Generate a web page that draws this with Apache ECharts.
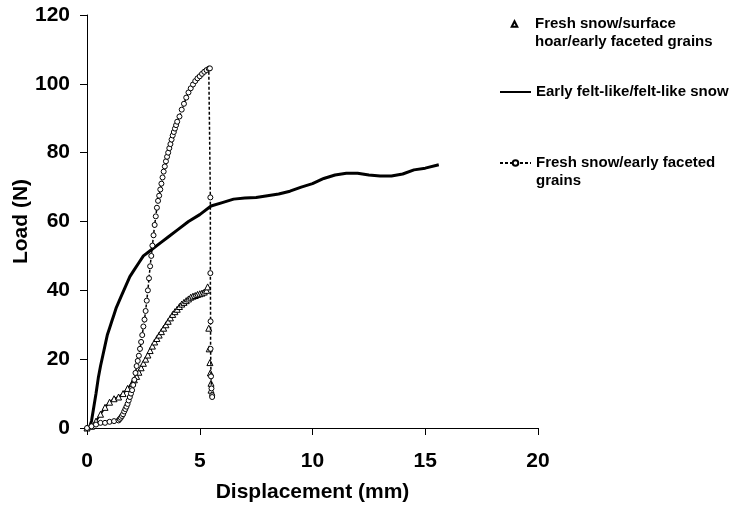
<!DOCTYPE html>
<html>
<head>
<meta charset="utf-8">
<script src="https://cdn.jsdelivr.net/npm/echarts@6/dist/echarts.min.js"></script>
<style>
  html, body { margin: 0; padding: 0; background: #fff; }
  #chart { width: 729px; height: 506px; }
</style>
</head>
<body>
<div id="chart"></div>
<script>
// 系列名
const seriesNames = [
  'Fresh snow/surface hoar/early faceted grains',
  'Early felt-like/felt-like snow',
  'Fresh snow/early faceted grains'
];

// 凡例に表示する行（先頭の空行は記号を1行目に揃えるため）
const legendLines = [
  [' ', 'Fresh snow/surface', 'hoar/early faceted grains'],
  ['Early felt-like/felt-like snow'],
  [' ', 'Fresh snow/early faceted', 'grains']
];

// 三角形の系列（上昇部） [変位(mm), 荷重(N)]
const triangleRise = [
  [0, 0], [0.2, 0.5], [0.4, 2], [0.6, 4], [0.8, 6], [1.0, 7.5], [1.2, 8.5],
  [1.4, 9], [1.6, 10], [1.8, 11.5], [2.0, 13], [2.1, 14], [2.2, 15], [2.3, 16.2],
  [2.4, 17.5], [2.5, 18.8], [2.6, 20], [2.7, 21.2], [2.8, 22.5], [2.9, 23.8],
  [3.0, 25], [3.1, 26], [3.2, 27], [3.3, 28], [3.4, 29], [3.5, 30], [3.6, 31],
  [3.7, 32], [3.8, 33], [3.9, 33.8], [4.0, 34.5], [4.1, 35.3], [4.2, 36],
  [4.3, 36.5], [4.4, 37], [4.5, 37.5], [4.6, 38], [4.7, 38.3], [4.8, 38.5],
  [4.9, 38.8], [5.0, 39], [5.1, 39.2], [5.2, 39.5], [5.3, 40], [5.35, 41]
];

// 三角形の系列（急落部）
const triangleDrop = [
  [5.4, 29], [5.42, 23], [5.45, 19], [5.47, 16], [5.5, 13], [5.5, 11]
];

// 実線の系列
const feltPoints = [
  [0.1, 0], [0.2, 2], [0.3, 6], [0.4, 10], [0.5, 14.5], [0.6, 18], [0.7, 21],
  [0.8, 24], [0.9, 27], [1.0, 29], [1.1, 31], [1.2, 33], [1.3, 35], [1.4, 36.5],
  [1.5, 38], [1.7, 41], [1.9, 44], [2.1, 46], [2.3, 48], [2.5, 50], [2.7, 51],
  [3.0, 52.5], [3.3, 54], [3.6, 55.5], [4.0, 57.5], [4.5, 60], [5.0, 62],
  [5.5, 64.5], [6.0, 65.5], [6.5, 66.5], [7.0, 66.8], [7.5, 67], [8.0, 67.5],
  [8.5, 68], [9.0, 68.8], [9.5, 70], [10.0, 71], [10.5, 72.5], [11.0, 73.5],
  [11.5, 74], [12.0, 74], [12.5, 73.5], [13.0, 73.2], [13.5, 73.2], [14.0, 73.8],
  [14.5, 75], [15.0, 75.5], [15.6, 76.5]
];

// 点線と丸の系列
const circlePoints = [
  [0, 0], [0.2, 0.5], [0.4, 1], [0.6, 1.5], [0.8, 1.5], [1.0, 1.8], [1.2, 2],
  [1.4, 2.2], [1.45, 2.6], [1.5, 3], [1.55, 3.5], [1.6, 4], [1.65, 4.8], [1.7, 5.5],
  [1.75, 6.2], [1.8, 7], [1.85, 8], [1.9, 9], [1.95, 10], [2.0, 11], [2.05, 12.5],
  [2.1, 14], [2.15, 16], [2.2, 18], [2.25, 19.5], [2.3, 21], [2.35, 23], [2.4, 25],
  [2.45, 27], [2.5, 29.5], [2.55, 31.5], [2.6, 34], [2.65, 37], [2.7, 40],
  [2.75, 43.5], [2.8, 47], [2.85, 50], [2.9, 53], [2.95, 56], [3.0, 59],
  [3.05, 61.5], [3.1, 64], [3.15, 66], [3.2, 67.5], [3.25, 69.3], [3.3, 71],
  [3.35, 72.8], [3.4, 74.5], [3.45, 76], [3.5, 77.5], [3.55, 78.8], [3.6, 80],
  [3.65, 81.3], [3.7, 82.5], [3.75, 83.8], [3.8, 85], [3.85, 86], [3.9, 87],
  [3.95, 88], [4.0, 89], [4.1, 90.5], [4.2, 92.5], [4.3, 94.2], [4.4, 96],
  [4.5, 97.5], [4.6, 98.7], [4.7, 99.8], [4.8, 100.8], [4.9, 101.6], [5.0, 102.2],
  [5.1, 102.9], [5.2, 103.5], [5.3, 104], [5.4, 104.4], [5.45, 104.5],
  [5.47, 67], [5.47, 45], [5.48, 31], [5.48, 23], [5.5, 15], [5.52, 11.5],
  [5.55, 9.5], [5.55, 9]
];

// 軸の目盛り
const xTicks = [0, 5, 10, 15, 20];
const yTicks = [0, 20, 40, 60, 80, 100, 120];

const chart = echarts.init(document.querySelector('#chart'));

const font = 'Liberation Sans, Arial, sans-serif';

// 軸の共通設定
const axisCommon = {
  type: 'value',
  nameLocation: 'middle',
  nameMoveOverlap: false,
  nameTextStyle: { fontFamily: font, fontWeight: 'bold', fontSize: 21, color: '#000' },
  axisLine: { show: true, lineStyle: { color: '#000', width: 1 } },
  axisTick: { show: true, length: 7, lineStyle: { color: '#000' } },
  axisLabel: { fontFamily: font, fontWeight: 'bold', fontSize: 21, color: '#000' },
  splitLine: { show: false }
};

// 凡例の共通設定
const legendCommon = {
  orient: 'vertical',
  left: 499,
  itemWidth: 31,
  itemHeight: 7,
  padding: 0,
  selectedMode: false,
  textStyle: { fontFamily: font, fontWeight: 'bold', fontSize: 15, lineHeight: 18, color: '#000' },
  formatter: name => legendLines[seriesNames.indexOf(name)].join('\n')
};

// 三角形の系列の共通設定
const triangleCommon = {
  name: seriesNames[0],
  type: 'line',
  symbol: 'triangle',
  symbolSize: 6,
  showAllSymbol: true,
  itemStyle: { color: '#fff', borderColor: '#000', borderWidth: 1 },
  z: 3
};

const option = {
  animation: false,
  grid: { left: 87, right: 191, top: 15, bottom: 78, outerBoundsMode: 'none' },
  legend: [
    Object.assign({}, legendCommon, {
      top: -3,
      data: [{ name: seriesNames[0], lineStyle: { width: 0 } }]
    }),
    Object.assign({}, legendCommon, {
      top: 83,
      data: [{ name: seriesNames[1], itemStyle: { opacity: 0 } }]
    }),
    Object.assign({}, legendCommon, { top: 136, data: [seriesNames[2]] })
  ],
  xAxis: Object.assign({}, axisCommon, {
    name: 'Displacement (mm)',
    nameGap: 54,
    min: xTicks[0],
    max: xTicks[xTicks.length - 1],
    interval: xTicks[1] - xTicks[0],
    axisLabel: Object.assign({}, axisCommon.axisLabel, { margin: 23 })
  }),
  yAxis: Object.assign({}, axisCommon, {
    name: 'Load (N)',
    nameGap: 55,
    min: yTicks[0],
    max: yTicks[yTicks.length - 1],
    interval: yTicks[1] - yTicks[0],
    axisLabel: Object.assign({}, axisCommon.axisLabel, { margin: 17 })
  }),
  series: [
    Object.assign({}, triangleCommon, {
      data: triangleRise,
      lineStyle: { color: '#000', width: 2 }
    }),
    {
      name: seriesNames[1],
      type: 'line',
      data: feltPoints,
      symbol: 'none',
      lineStyle: { color: '#000', width: 3 },
      itemStyle: { color: '#000' },
      z: 2
    },
    {
      name: seriesNames[2],
      type: 'line',
      data: circlePoints,
      symbol: 'circle',
      symbolSize: 5,
      showAllSymbol: true,
      itemStyle: { color: '#fff', borderColor: '#000', borderWidth: 1 },
      lineStyle: { color: '#000', width: 1.5, type: [3, 2] },
      z: 4
    },
    Object.assign({}, triangleCommon, {
      data: triangleDrop,
      lineStyle: { width: 0 }
    })
  ]
};

chart.setOption(option);
</script>
</body>
</html>
